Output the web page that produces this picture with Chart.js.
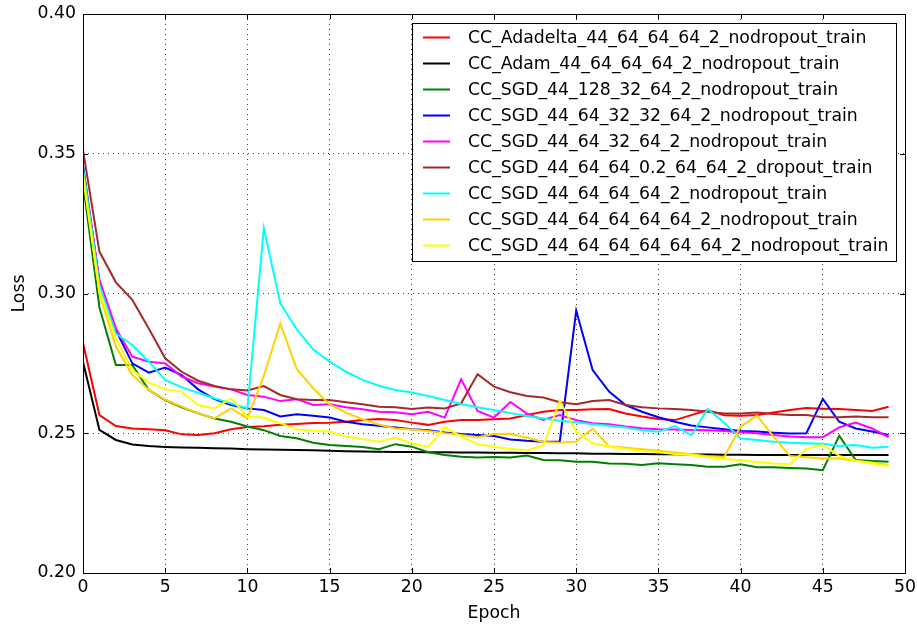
<!DOCTYPE html>
<html lang="en">
<head>
  <meta charset="UTF-8" />
  <title>Loss per epoch</title>
  <script src="https://cdn.jsdelivr.net/npm/chart.js"></script>
  <style>
    html, body { margin: 0; padding: 0; background: #fff; }
    #wrap { width: 917px; height: 628px; position: relative; }
  </style>
</head>
<body>
  <div id="wrap"><canvas id="lossChart"></canvas></div>

  <script>
    // epochs on the x axis
    const epochs = [0, 1, 2, 3, 4, 5, 6, 7, 8, 9, 10, 11, 12, 13, 14, 15, 16, 17, 18, 19,
      20, 21, 22, 23, 24, 25, 26, 27, 28, 29, 30, 31, 32, 33, 34, 35, 36, 37, 38, 39,
      40, 41, 42, 43, 44, 45, 46, 47, 48, 49];

    const xTicks = [0, 5, 10, 15, 20, 25, 30, 35, 40, 45, 50];
    const yTicks = [0.20, 0.25, 0.30, 0.35, 0.40];

    const seriesNames = [
      "CC_Adadelta_44_64_64_64_2_nodropout_train",
      "CC_Adam_44_64_64_64_2_nodropout_train",
      "CC_SGD_44_128_32_64_2_nodropout_train",
      "CC_SGD_44_64_32_32_64_2_nodropout_train",
      "CC_SGD_44_64_32_64_2_nodropout_train",
      "CC_SGD_44_64_64_0.2_64_64_2_dropout_train",
      "CC_SGD_44_64_64_64_2_nodropout_train",
      "CC_SGD_44_64_64_64_64_2_nodropout_train",
      "CC_SGD_44_64_64_64_64_64_2_nodropout_train"
    ];

    const adadelta = [0.2823, 0.2565, 0.2526, 0.2517, 0.2514, 0.2511, 0.2496, 0.2494, 0.2500, 0.2514,
      0.2522, 0.2525, 0.2530, 0.2533, 0.2537, 0.2538, 0.2541, 0.2547, 0.2551, 0.2547,
      0.2538, 0.2530, 0.2541, 0.2547, 0.2547, 0.2550, 0.2553, 0.2565, 0.2577, 0.2583,
      0.2583, 0.2586, 0.2587, 0.2571, 0.2560, 0.2551, 0.2547, 0.2565, 0.2583, 0.2564,
      0.2563, 0.2565, 0.2574, 0.2583, 0.2590, 0.2588, 0.2587, 0.2583, 0.2580, 0.2595];

    const adam = [0.2755, 0.2512, 0.2476, 0.2460, 0.2454, 0.2451, 0.2449, 0.2448, 0.2446, 0.2445,
      0.2443, 0.2442, 0.2441, 0.2440, 0.2439, 0.2437, 0.2436, 0.2435, 0.2434, 0.2433,
      0.2433, 0.2432, 0.2432, 0.2431, 0.2431, 0.2430, 0.2430, 0.2429, 0.2429, 0.2428,
      0.2428, 0.2427, 0.2427, 0.2426, 0.2426, 0.2425, 0.2425, 0.2424, 0.2424, 0.2423,
      0.2423, 0.2422, 0.2422, 0.2422, 0.2422, 0.2422, 0.2422, 0.2422, 0.2422, 0.2422];

    const sgd128 = [0.3395, 0.2950, 0.2744, 0.2744, 0.2655, 0.2619, 0.2593, 0.2571, 0.2553, 0.2541,
      0.2524, 0.2511, 0.2490, 0.2482, 0.2466, 0.2458, 0.2454, 0.2451, 0.2443, 0.2461,
      0.2452, 0.2432, 0.2422, 0.2416, 0.2413, 0.2415, 0.2413, 0.2420, 0.2404, 0.2403,
      0.2398, 0.2398, 0.2392, 0.2391, 0.2386, 0.2393, 0.2389, 0.2386, 0.2380, 0.2380,
      0.2389, 0.2378, 0.2378, 0.2376, 0.2374, 0.2368, 0.2491, 0.2404, 0.2401, 0.2398];

    const sgd32_32 = [0.3460, 0.3040, 0.2869, 0.2750, 0.2717, 0.2735, 0.2708, 0.2657, 0.2622, 0.2601,
      0.2589, 0.2583, 0.2560, 0.2568, 0.2563, 0.2556, 0.2541, 0.2532, 0.2527, 0.2521,
      0.2514, 0.2511, 0.2503, 0.2497, 0.2494, 0.2490, 0.2478, 0.2473, 0.2470, 0.2470,
      0.2939, 0.2726, 0.2649, 0.2601, 0.2577, 0.2557, 0.2541, 0.2528, 0.2521, 0.2514,
      0.2508, 0.2506, 0.2502, 0.2499, 0.2500, 0.2623, 0.2541, 0.2517, 0.2506, 0.2494];

    const sgd32 = [0.3440, 0.3050, 0.2875, 0.2774, 0.2756, 0.2750, 0.2703, 0.2679, 0.2667, 0.2657,
      0.2637, 0.2631, 0.2615, 0.2622, 0.2601, 0.2604, 0.2593, 0.2586, 0.2577, 0.2575,
      0.2568, 0.2577, 0.2556, 0.2693, 0.2580, 0.2556, 0.2612, 0.2570, 0.2548, 0.2565,
      0.2547, 0.2536, 0.2532, 0.2524, 0.2518, 0.2514, 0.2513, 0.2512, 0.2511, 0.2508,
      0.2504, 0.2500, 0.2494, 0.2488, 0.2486, 0.2486, 0.2521, 0.2538, 0.2517, 0.2486];

    const sgdDropout = [0.3513, 0.3150, 0.3040, 0.2977, 0.2875, 0.2768, 0.2720, 0.2688, 0.2669, 0.2657,
      0.2653, 0.2669, 0.2637, 0.2622, 0.2619, 0.2619, 0.2611, 0.2604, 0.2595, 0.2593,
      0.2587, 0.2592, 0.2589, 0.2607, 0.2711, 0.2667, 0.2647, 0.2633, 0.2628, 0.2611,
      0.2604, 0.2615, 0.2619, 0.2601, 0.2593, 0.2589, 0.2587, 0.2583, 0.2577, 0.2571,
      0.2571, 0.2574, 0.2569, 0.2565, 0.2565, 0.2557, 0.2557, 0.2560, 0.2557, 0.2557];

    const sgd64x3 = [0.3450, 0.3030, 0.2857, 0.2816, 0.2756, 0.2691, 0.2664, 0.2645, 0.2625, 0.2607,
      0.2589, 0.3234, 0.2965, 0.2872, 0.2800, 0.2756, 0.2720, 0.2691, 0.2670, 0.2655,
      0.2646, 0.2633, 0.2619, 0.2605, 0.2593, 0.2583, 0.2572, 0.2562, 0.2553, 0.2545,
      0.2539, 0.2532, 0.2527, 0.2521, 0.2511, 0.2505, 0.2526, 0.2493, 0.2587, 0.2538,
      0.2481, 0.2476, 0.2470, 0.2466, 0.2464, 0.2462, 0.2454, 0.2458, 0.2448, 0.2452];

    const sgd64x4 = [0.3430, 0.3000, 0.2810, 0.2708, 0.2655, 0.2620, 0.2595, 0.2571, 0.2553, 0.2589,
      0.2553, 0.2705, 0.2893, 0.2730, 0.2661, 0.2603, 0.2574, 0.2550, 0.2531, 0.2517,
      0.2513, 0.2508, 0.2500, 0.2494, 0.2486, 0.2497, 0.2498, 0.2484, 0.2469, 0.2466,
      0.2470, 0.2517, 0.2453, 0.2448, 0.2443, 0.2437, 0.2431, 0.2425, 0.2418, 0.2414,
      0.2524, 0.2563, 0.2488, 0.2419, 0.2414, 0.2410, 0.2410, 0.2402, 0.2395, 0.2386];

    const sgd64x5 = [0.3420, 0.3010, 0.2840, 0.2726, 0.2681, 0.2657, 0.2649, 0.2601, 0.2589, 0.2625,
      0.2560, 0.2556, 0.2536, 0.2514, 0.2509, 0.2506, 0.2488, 0.2479, 0.2470, 0.2484,
      0.2464, 0.2451, 0.2522, 0.2488, 0.2461, 0.2452, 0.2444, 0.2438, 0.2456, 0.2616,
      0.2506, 0.2464, 0.2452, 0.2444, 0.2437, 0.2432, 0.2426, 0.2422, 0.2414, 0.2408,
      0.2403, 0.2397, 0.2392, 0.2389, 0.2444, 0.2458, 0.2419, 0.2402, 0.2392, 0.2383];

    const seriesValues = [adadelta, adam, sgd128, sgd32_32, sgd32, sgdDropout, sgd64x3, sgd64x4, sgd64x5];
    const seriesColors = ["#ff0000", "#000000", "#008000", "#0000ff", "#ff00ff", "#a52a2a", "#00ffff", "#ffd200", "#ffff00"];

    const FONT = "'DejaVu Sans', sans-serif";
    Chart.defaults.font.family = FONT;
    Chart.defaults.font.size = 17.3;
    Chart.defaults.color = "#000";

    // frame + inward ticks, matplotlib style
    const framePlugin = {
      id: "frame",
      afterDatasetsDraw(chart) {
        const { ctx, chartArea: a, scales: { x, y } } = chart;
        ctx.save();
        ctx.strokeStyle = "#000";
        ctx.lineWidth = 1;
        ctx.beginPath();
        xTicks.forEach(t => {
          const px = Math.round(x.getPixelForValue(t)) + 0.5;
          ctx.moveTo(px, a.bottom); ctx.lineTo(px, a.bottom - 5);
          ctx.moveTo(px, a.top); ctx.lineTo(px, a.top + 5);
        });
        yTicks.forEach(t => {
          const py = Math.round(y.getPixelForValue(t)) + 0.5;
          ctx.moveTo(a.left, py); ctx.lineTo(a.left + 5, py);
          ctx.moveTo(a.right, py); ctx.lineTo(a.right - 5, py);
        });
        ctx.stroke();
        ctx.strokeRect(Math.round(a.left) + 0.5, Math.round(a.top) + 0.5,
          Math.round(a.right - a.left), Math.round(a.bottom - a.top));
        ctx.restore();
      }
    };

    // legend box drawn inside the plot, top right
    const boxLegend = {
      id: "boxLegend",
      afterDraw(chart) {
        const { ctx, chartArea: a } = chart;
        const sets = chart.data.datasets;
        const left = Math.round(a.right) - 493, top = Math.round(a.top) + 9, w = 484, rowH = 26;
        const h = 238;
        ctx.save();
        ctx.fillStyle = "#fff";
        ctx.fillRect(left, top, w, h);
        ctx.strokeStyle = "#000";
        ctx.lineWidth = 1;
        ctx.strokeRect(left + 0.5, top + 0.5, w, h);
        ctx.font = "17.3px " + FONT;
        ctx.textBaseline = "middle";
        ctx.fillStyle = "#000";
        sets.forEach((ds, i) => {
          const cy = top + 14.5 + i * rowH;
          ctx.strokeStyle = ds.borderColor;
          ctx.lineWidth = 2;
          ctx.beginPath();
          ctx.moveTo(left + 11, cy);
          ctx.lineTo(left + 38, cy);
          ctx.stroke();
          ctx.fillText(ds.label, left + 56, cy + 1);
        });
        ctx.restore();
      }
    };

    const datasets = seriesNames.map((name, i) => ({
      label: name,
      data: epochs.map((e, j) => ({ x: e, y: seriesValues[i][j] })),
      borderColor: seriesColors[i],
      backgroundColor: seriesColors[i],
      borderWidth: 2,
      pointRadius: 0,
      tension: 0,
      fill: false,
      order: seriesNames.length - i
    }));

    const gridStyle = { color: "rgba(0,0,0,0.75)", lineWidth: 1, drawTicks: false };

    new Chart(document.getElementById("lossChart"), {
      type: "line",
      data: { datasets },
      options: {
        responsive: true,
        maintainAspectRatio: false,
        animation: false,
        layout: { padding: { top: 14, right: 12, left: 0, bottom: 0 } },
        plugins: { legend: { display: false }, tooltip: { enabled: false } },
        scales: {
          x: {
            type: "linear",
            min: 0, max: 50,
            afterBuildTicks: s => { s.ticks = xTicks.map(v => ({ value: v })); },
            afterFit: s => { s.height = 55; s.paddingLeft = 0; s.paddingRight = 0; },
            ticks: { padding: 4, callback: v => String(v), maxRotation: 0 },
            grid: gridStyle,
            border: { display: false, dash: [1, 4] },
            title: { display: true, text: "Epoch", padding: { top: 0, bottom: 4 } }
          },
          y: {
            min: 0.2, max: 0.4,
            afterBuildTicks: s => { s.ticks = yTicks.map(v => ({ value: v })); },
            afterFit: s => { s.width = 83; s.paddingTop = 0; s.paddingBottom = 0; },
            ticks: { padding: 7, callback: v => v.toFixed(2) },
            grid: gridStyle,
            border: { display: false, dash: [1, 4] },
            title: { display: true, text: "Loss", padding: { top: 9, bottom: 0 } }
          }
        }
      },
      plugins: [framePlugin, boxLegend]
    });
  </script>
</body>
</html>
